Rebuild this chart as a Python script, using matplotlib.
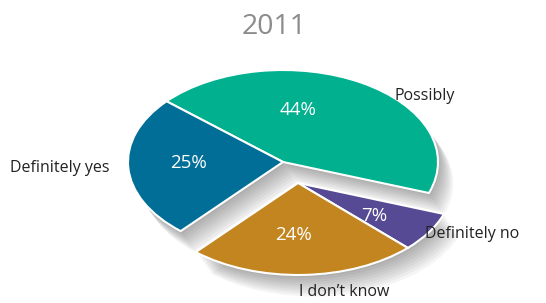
import matplotlib.pyplot as plt

plt.rcParams['font.family'] = ['Open Sans', 'DejaVu Sans']

# clockwise order starting at the upper-left boundary
categorias = ['Possibly', 'Definitely no', 'I don\u2019t know', 'Definitely yes']
valores = [44, 7, 24, 25]
colores = ['#00B08F', '#574A94', '#C28520', '#006E96']
separado = [False, True, True, False]  # the pulled-out group

fig = plt.figure(figsize=(5.46, 3.03), dpi=100)
ax = fig.add_axes([0, 0, 1, 1])

desp = (0.097, -0.228)  # shift of the pulled-out group


def dibujar_pie(cx, cy, **kw):
    wedges, _ = ax.pie(valores, startangle=138.7, counterclock=False,
                       center=(cx, cy), **kw)
    for w, s in zip(wedges, separado):
        if s:
            w.set_center((cx + desp[0], cy + desp[1]))
    return wedges


# soft shadow: a few translucent gray copies shifted down-right
for k in range(1, 10):
    dibujar_pie(0.011 * k, -0.026 * k, colors=['#000000'] * 4,
                wedgeprops={'alpha': 0.04, 'linewidth': 0})

dibujar_pie(0, 0, colors=colores, wedgeprops={'edgecolor': 'white', 'linewidth': 1.5})

ax.set_aspect('auto')
ax.set_xlim(-283 / 155, 263 / 155)
ax.set_ylim(-141 / 92, 162 / 92)
ax.axis('off')

# porcentajes
pct_pos = {'Possibly': (0.10, 0.57), 'Definitely no': (0.59, -0.59),
           'I don\u2019t know': (0.065, -0.79), 'Definitely yes': (-0.61, -0.01)}
for cat, v in zip(categorias, valores):
    x, y = pct_pos[cat]
    ax.text(x, y, f'{v}%', color='white', fontsize=13.5, ha='center', va='center')

# etiquetas
lab = dict(fontsize=11.5, color='#222222', ha='left', va='center')
ax.text(0.72, 0.72, 'Possibly', **lab)
ax.text(-1.76, -0.065, 'Definitely yes', **lab)
ax.text(0.915, -0.78, 'Definitely no', **lab)
ax.text(0.105, -1.41, 'I don\u2019t know', **lab)

fig.text(0.502, 0.91, '2011', fontsize=20.5, color='#8C8C8C', ha='center', va='center')

fig.savefig('out.png', dpi=100)
